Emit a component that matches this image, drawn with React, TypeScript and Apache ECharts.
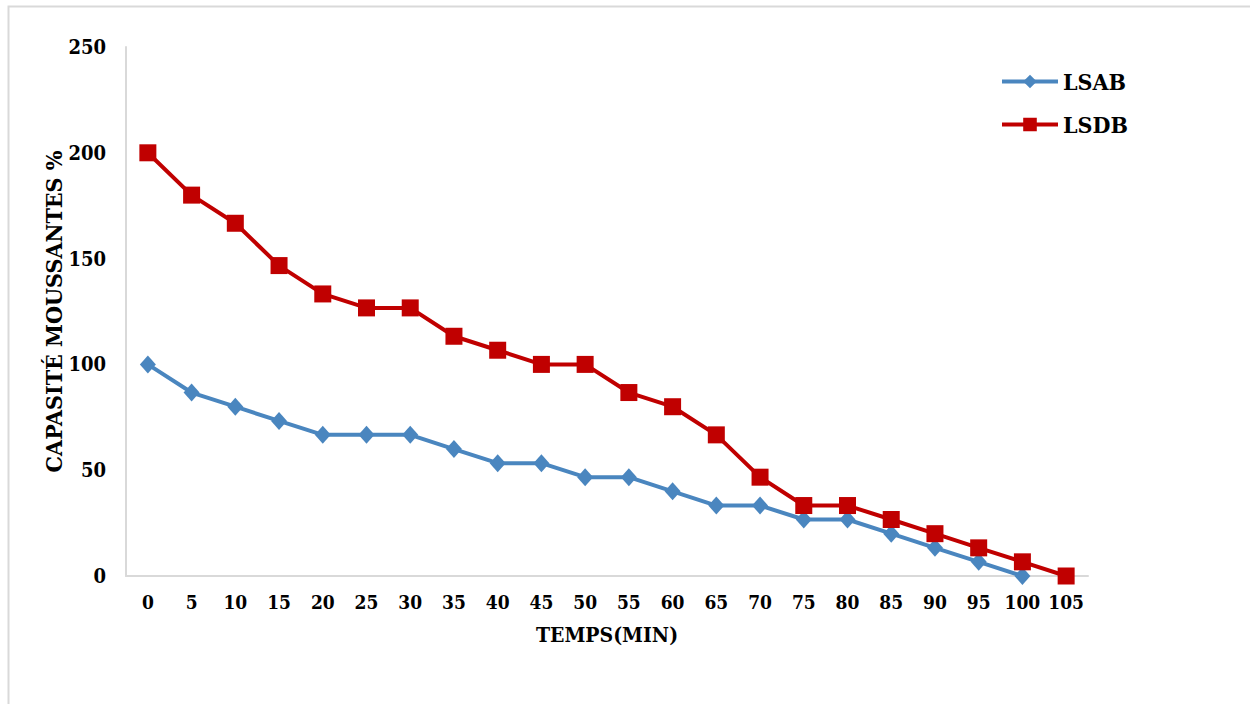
import React, { useEffect, useRef } from "react";
import * as echarts from "echarts";

// Time in minutes
const temps = ["0", "5", "10", "15", "20", "25", "30", "35", "40", "45", "50", "55", "60", "65", "70", "75", "80", "85", "90", "95", "100", "105"];

// Foaming capacity (%)
const lsab = [100, 86.7, 80, 73.3, 66.7, 66.7, 66.7, 60, 53.3, 53.3, 46.7, 46.7, 40, 33.3, 33.3, 26.7, 26.7, 20, 13.3, 6.7, 0];
const lsdb = [200, 180, 166.7, 146.7, 133.3, 126.7, 126.7, 113.3, 106.7, 100, 100, 86.7, 80, 66.7, 46.7, 33.3, 33.3, 26.7, 20, 13.3, 6.7, 0];

const yTicks = [0, 250, 50]; // min, max, interval

const FONT = "DejaVu Serif Condensed, DejaVu Serif";

export default function App() {
  const ref = useRef<HTMLDivElement>(null);

  useEffect(() => {
    if (!ref.current) return;
    const chart = echarts.init(ref.current, undefined, { renderer: "svg" });
    chart.setOption({
      animation: false,
      backgroundColor: "#ffffff",
      textStyle: { fontFamily: FONT },
      graphic: [
        {
          type: "rect",
          shape: { x: 8.5, y: 6.5, width: 1400, height: 900 },
          style: { fill: "none", stroke: "#d9d9d9", lineWidth: 2 },
          silent: true,
        },
      ],
      grid: { left: 126, right: 162, top: 47, bottom: 128 },
      legend: {
        orient: "vertical",
        left: 995,
        top: 65,
        itemWidth: 56,
        itemHeight: 17,
        itemGap: 20,
        lineStyle: { width: 4 },
        textStyle: { fontFamily: FONT, fontWeight: "bold", fontSize: 23, color: "#000" },
        data: ["LSAB", "LSDB"],
      },
      xAxis: {
        type: "category",
        data: temps,
        boundaryGap: true,
        name: "TEMPS(MIN)",
        nameLocation: "middle",
        nameGap: 48,
        nameMoveOverlap: false,
        nameTextStyle: { fontFamily: FONT, fontWeight: "bold", fontSize: 21, color: "#000" },
        axisLine: { lineStyle: { color: "#d9d9d9", width: 2 } },
        axisTick: { show: false },
        axisLabel: { fontFamily: FONT, fontWeight: "bold", fontSize: 19, color: "#000", margin: 16, interval: 0 },
        splitLine: { show: false },
      },
      yAxis: {
        type: "value",
        min: yTicks[0],
        max: yTicks[1],
        interval: yTicks[2],
        name: "CAPASITÉ MOUSSANTES %",
        nameLocation: "middle",
        nameGap: 61,
        nameMoveOverlap: false,
        nameTextStyle: { fontFamily: FONT, fontWeight: "bold", fontSize: 23, color: "#000" },
        axisLine: { show: true, lineStyle: { color: "#d9d9d9", width: 2 } },
        axisTick: { show: false },
        axisLabel: { fontFamily: FONT, fontWeight: "bold", fontSize: 20, color: "#000", margin: 20 },
        splitLine: { show: false },
      },
      series: [
        {
          name: "LSAB",
          type: "line",
          data: lsab,
          symbol: "diamond",
          symbolSize: [16, 18],
          itemStyle: { color: "#4a86bf" },
          lineStyle: { color: "#4a86bf", width: 4 },
        },
        {
          name: "LSDB",
          type: "line",
          data: lsdb,
          symbol: "rect",
          symbolSize: 17,
          itemStyle: { color: "#c00000" },
          lineStyle: { color: "#c00000", width: 4 },
        },
      ],
    });
    return () => chart.dispose();
  }, []);

  return (
    <div style={{ position: "absolute", left: 0, top: 0, width: 1250, height: 704, overflow: "hidden" }}>
      <div ref={ref} style={{ width: 1250, height: 704 }} />
    </div>
  );
}
